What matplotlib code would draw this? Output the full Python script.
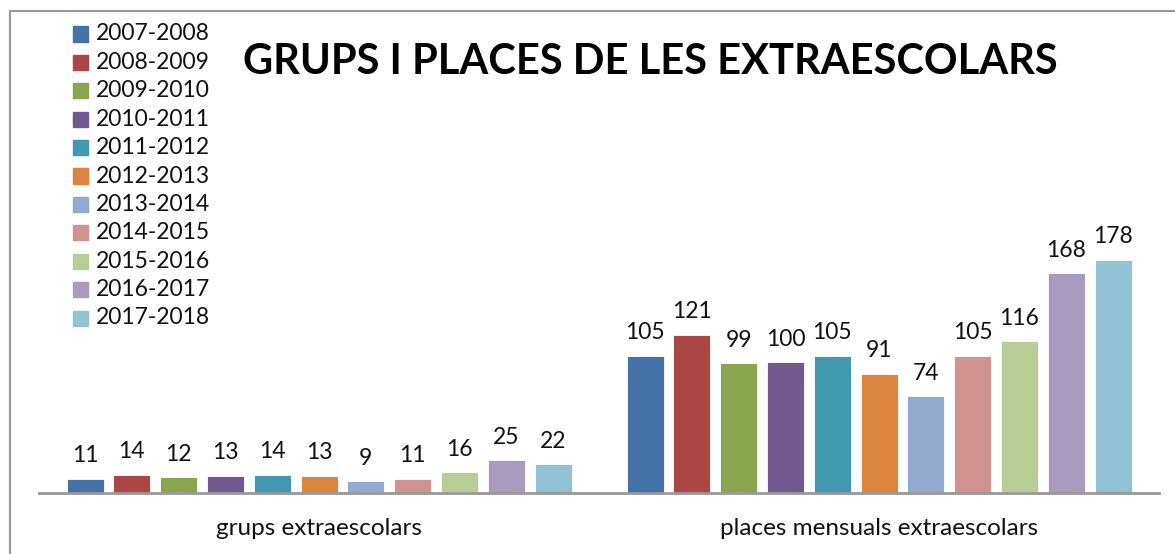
import matplotlib
matplotlib.use("Agg")
import matplotlib.pyplot as plt
import numpy as np
from matplotlib.patches import Rectangle

categories = ["grups extraescolars", "places mensuals extraescolars"]
seasons = ["2007-2008", "2008-2009", "2009-2010", "2010-2011", "2011-2012",
           "2012-2013", "2013-2014", "2014-2015", "2015-2016", "2016-2017", "2017-2018"]
grups = [11, 14, 12, 13, 14, 13, 9, 11, 16, 25, 22]
places = [105, 121, 99, 100, 105, 91, 74, 105, 116, 168, 178]
colors = ["#4572A7", "#AA4643", "#89A54E", "#71588F", "#4198AF", "#DB843D",
          "#93A9CF", "#D19392", "#B9CD96", "#A99BBD", "#92C3D4"]
title = "GRUPS I PLACES DE LES EXTRAESCOLARS"

plt.rcParams['font.family'] = ['Lato', 'DejaVu Sans']

fig = plt.figure(figsize=(11.75, 5.54), dpi=100)
W, H = 1175, 554
ax = fig.add_axes([39 / W, 61 / H, 1120 / W, 393 / H])

n = len(seasons)
step = 46.8 / 560
bw = 37 / 560
x = np.arange(len(categories))
for i, s in enumerate(seasons):
    vals = [grups[i], places[i]]
    pos = x + (i - (n - 1) / 2) * step
    bars = ax.bar(pos, vals, width=bw, color=colors[i], label=s,
                  edgecolor="white", linewidth=0.6, zorder=2)
    for b, v in zip(bars, vals):
        ax.annotate(str(v), (b.get_x() + b.get_width() / 2, v),
                    xytext=(0, 9), textcoords="offset points",
                    ha="center", va="bottom", fontsize=16.5, color="#111111")

ax.set_xlim(-0.5, 1.5)
ax.set_ylim(0, 393 / 1.309)
for sp in ["top", "right", "left"]:
    ax.spines[sp].set_visible(False)
ax.spines["bottom"].set_color("#999999")
ax.spines["bottom"].set_linewidth(2)
ax.set_yticks([])
ax.set_xticks(x)
ax.set_xticklabels(categories, fontsize=17.5, color="#111111")
ax.tick_params(axis="x", length=0, pad=18)

fig.text(650 / W, 1 - 62 / H, title, ha="center", va="center",
         fontsize=30, fontweight="bold", color="black")

# legend
y0 = 34
dy = 28.4
for i, s in enumerate(seasons):
    yc = y0 + i * dy
    fig.patches.append(Rectangle((73 / W, 1 - (yc + 7.5) / H), 15 / W, 15 / H,
                                 transform=fig.transFigure, color=colors[i]))
    fig.text(96 / W, 1 - yc / H, s, ha="left", va="center", fontsize=16.5,
             color="#111111")

# chart border
fig.lines.append(plt.Line2D([10 / W, 10 / W], [0, 1 - 11 / H], transform=fig.transFigure,
                            color="#999999", linewidth=1.5))
fig.lines.append(plt.Line2D([10 / W, 1], [1 - 11 / H, 1 - 11 / H], transform=fig.transFigure,
                            color="#999999", linewidth=1.5))

fig.savefig("out.png", dpi=100)
